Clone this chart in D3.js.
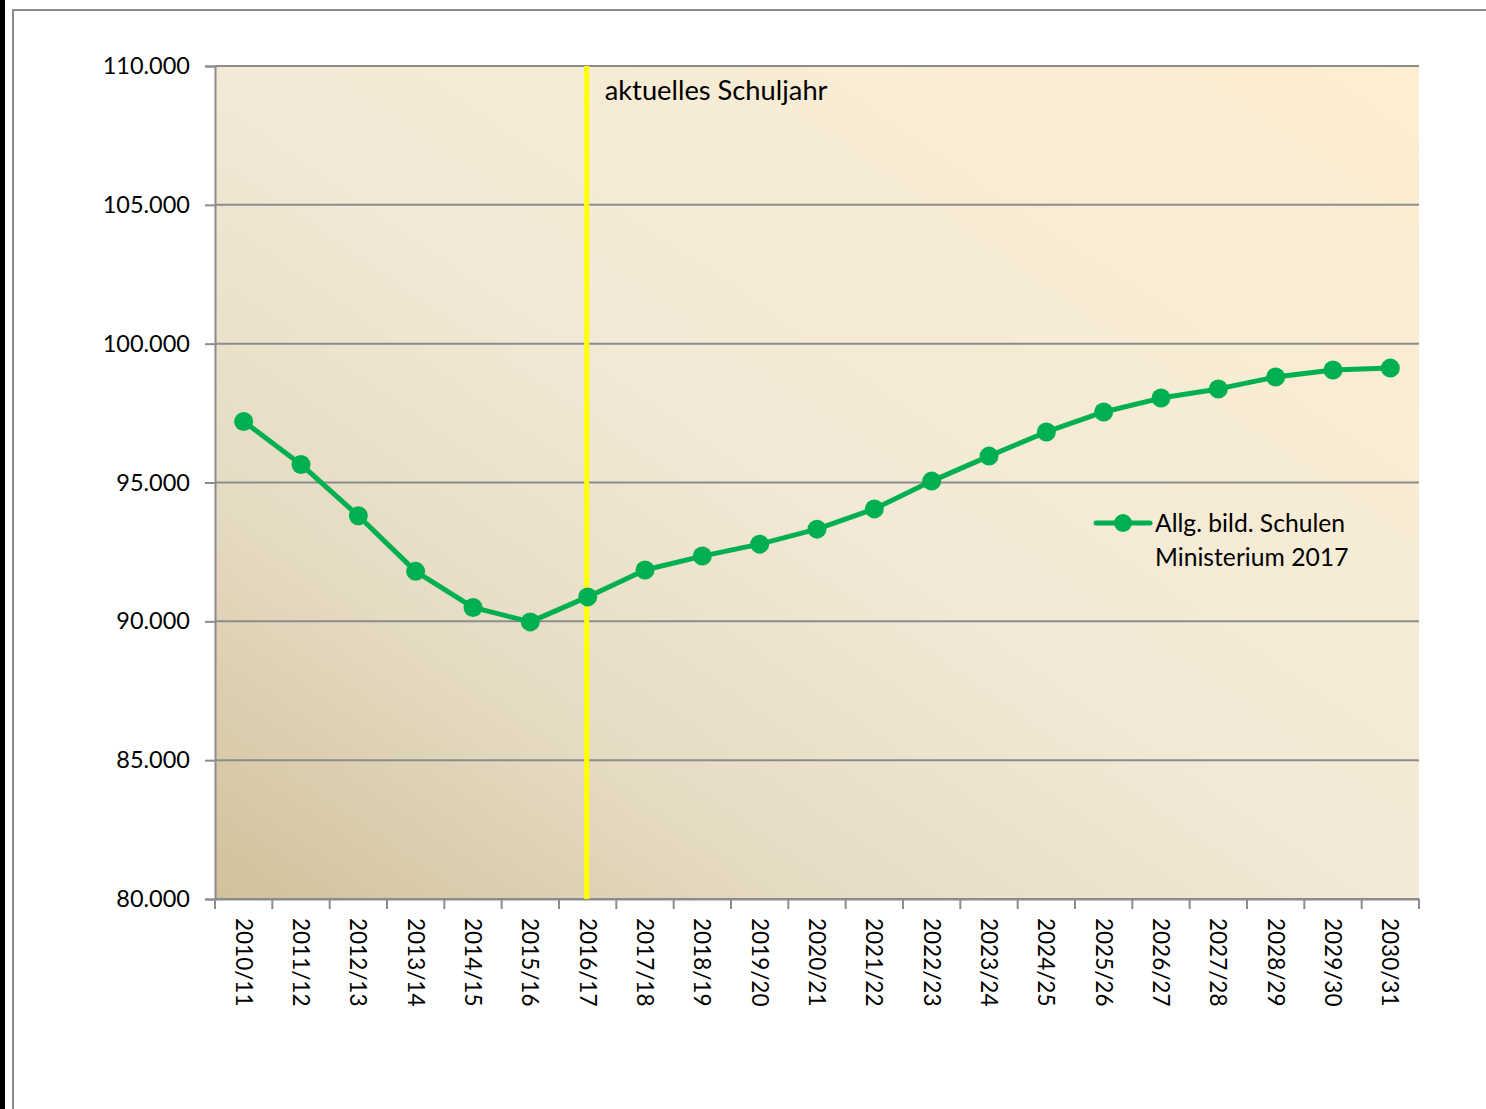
<!DOCTYPE html>
<html><head><meta charset="utf-8">
<script src="https://cdn.jsdelivr.net/npm/d3@7"></script>
<style>body{margin:0;background:#fff;}svg{display:block;}</style>
</head><body>
<script>
const categories = ["2010/11","2011/12","2012/13","2013/14","2014/15","2015/16","2016/17","2017/18","2018/19","2019/20","2020/21","2021/22","2022/23","2023/24","2024/25","2025/26","2026/27","2027/28","2028/29","2029/30","2030/31"];
const values = [97200,95650,93800,91800,90500,89980,90880,91850,92350,92780,93320,94050,95050,95950,96820,97540,98040,98370,98800,99050,99120];
const yTicks = [80000,85000,90000,95000,100000,105000,110000];
const seriesName = ["Allg. bild. Schulen","Ministerium 2017"];
const currentYear = "2016/17";
const currentLabel = "aktuelles Schuljahr";

const W=1486,H=1109;
const svg=d3.select("body").append("svg").attr("width",W).attr("height",H);
const font="Lato, 'Open Sans', sans-serif";

// outer frame
svg.append("rect").attr("x",0).attr("y",0).attr("width",5).attr("height",H).attr("fill","#000");
svg.append("line").attr("x1",13).attr("x2",13).attr("y1",9).attr("y2",H).attr("stroke","#8c8c8c").attr("stroke-width",2);
svg.append("line").attr("x1",12).attr("x2",W).attr("y1",10).attr("y2",10).attr("stroke","#8c8c8c").attr("stroke-width",2);

const L=215,R=1419,T=66,B=899;
const x=d3.scaleBand().domain(categories).range([L,R]);
const y=d3.scaleLinear().domain([80000,110000]).range([B,T]);

const defs=svg.append("defs");
const g=defs.append("linearGradient").attr("id","bg").attr("x1","0").attr("y1","1").attr("x2","1").attr("y2","0");
g.append("stop").attr("offset","0").attr("stop-color","#d1c19b");
g.append("stop").attr("offset","0.25").attr("stop-color","#e6dcc4");
g.append("stop").attr("offset","0.5").attr("stop-color","#f2ead7");
g.append("stop").attr("offset","0.75").attr("stop-color","#f8ecd4");
g.append("stop").attr("offset","1").attr("stop-color","#feeed2");
svg.append("rect").attr("x",L).attr("y",T).attr("width",R-L).attr("height",B-T).attr("fill","url(#bg)");

// gridlines
svg.append("g").selectAll("line").data(yTicks).join("line")
  .attr("x1",L).attr("x2",R).attr("y1",d=>y(d)).attr("y2",d=>y(d))
  .attr("stroke","#8c8c8c").attr("stroke-width",2);

// y axis
const fmt=d=>d3.format(",")(d).replace(/,/g,".");
const yAxis=svg.append("g").attr("transform",`translate(${L},0)`)
  .call(d3.axisLeft(y).tickValues(yTicks).tickFormat(fmt).tickSize(10).tickPadding(15));
yAxis.select(".domain").attr("stroke","#8c8c8c").attr("stroke-width",2);
yAxis.selectAll(".tick line").attr("stroke","#8c8c8c").attr("stroke-width",2);
yAxis.selectAll("text").attr("font-family",font).attr("font-size",23.5).attr("fill","#000");

// x axis
const xAxis=svg.append("g").attr("transform",`translate(0,${B})`)
  .call(d3.axisBottom(x).tickSize(0).tickPadding(0));
xAxis.select(".domain").attr("stroke","#8c8c8c").attr("stroke-width",2);
xAxis.selectAll(".tick text").attr("font-family",font).attr("font-size",22.5).attr("fill","#000")
  .attr("transform","translate(0,19) rotate(90)").attr("text-anchor","start").attr("dy","0.35em").attr("dx",0).attr("y",0);
// band boundary ticks
const bounds=categories.map(c=>x(c)).concat([R]);
svg.append("g").selectAll("line").data(bounds).join("line")
  .attr("x1",d=>d).attr("x2",d=>d).attr("y1",B).attr("y2",B+10)
  .attr("stroke","#8c8c8c").attr("stroke-width",2);

// current year line
const cx=x(currentYear)+x.bandwidth()/2;
svg.append("line").attr("x1",cx-1).attr("x2",cx-1).attr("y1",T).attr("y2",B).attr("stroke","#ffff00").attr("stroke-width",5);
svg.append("text").attr("x",cx+17).attr("y",100).attr("font-family",font).attr("font-size",27.3).attr("fill","#000").text(currentLabel);

// series
const green="#00b050";
const px=d=>x(d)+x.bandwidth()/2;
const line=d3.line().x((d,i)=>px(categories[i])).y(d=>y(d));
svg.append("path").datum(values).attr("d",line).attr("fill","none").attr("stroke",green).attr("stroke-width",5).attr("stroke-linejoin","round");
svg.append("g").selectAll("circle").data(values).join("circle")
  .attr("cx",(d,i)=>px(categories[i])).attr("cy",d=>y(d)).attr("r",9.5).attr("fill",green);

// legend
svg.append("line").attr("x1",1096).attr("x2",1150).attr("y1",523).attr("y2",523).attr("stroke",green).attr("stroke-width",5).attr("stroke-linecap","round");
svg.append("circle").attr("cx",1123).attr("cy",523).attr("r",9).attr("fill",green);
svg.append("g").selectAll("text").data(seriesName).join("text")
  .attr("x",1155).attr("y",(d,i)=>532+i*34).attr("font-family",font).attr("font-size",24.7).attr("fill","#000").text(d=>d);
</script>
</body></html>
